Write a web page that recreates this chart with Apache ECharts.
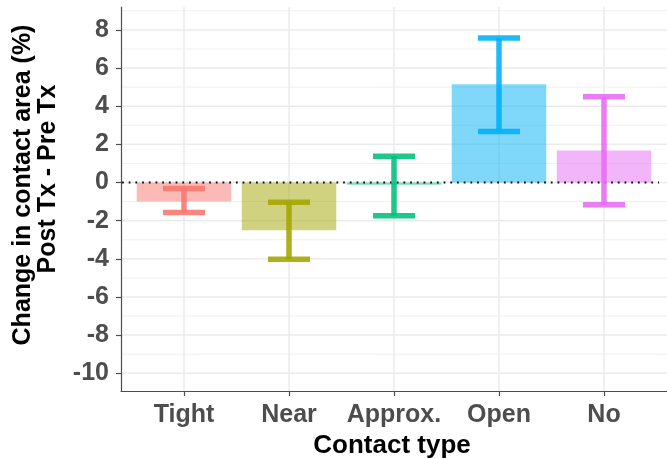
<!DOCTYPE html>
<html>
<head>
<meta charset="utf-8">
<script src="https://cdn.jsdelivr.net/npm/echarts@6/dist/echarts.min.js"></script>
<style>
  html, body { margin: 0; padding: 0; background: #ffffff; }
  #chart { width: 667px; height: 459px; }
</style>
</head>
<body>
<div id="chart"></div>
<script>
// Contact types and the mean change with its interval bounds (%)
const categories = ['Tight', 'Near', 'Approx.', 'Open', 'No'];
const meanChange = [-1.0, -2.5, -0.12, 5.15, 1.68];
const lowerBound = [-1.57, -4.02, -1.74, 2.67, -1.17];
const upperBound = [-0.31, -1.04, 1.38, 7.57, 4.5];
const yTickValues = [-10, -8, -6, -4, -2, 0, 2, 4, 6, 8];
const yMinorValues = [-9, -7, -5, -3, -1, 1, 3, 5, 7, 9];

const palette = ['#F8766D', '#A3A500', '#00BF7D', '#00B0F6', '#E76BF3'];
const FONT = 'Liberation Sans, Arial, sans-serif';
const xPositions = categories.map((c, i) => i + 1);

function withAlpha(hex, a) {
  const n = parseInt(hex.slice(1), 16);
  return 'rgba(' + (n >> 16) + ',' + ((n >> 8) & 255) + ',' + (n & 255) + ',' + a + ')';
}

const chart = echarts.init(document.getElementById('chart'), null, { renderer: 'canvas' });

const option = {
  animation: false,
  backgroundColor: '#ffffff',
  grid: { left: 121, right: -3, top: 7, bottom: 68 },
  xAxis: {
    type: 'value',
    min: 0.4,
    max: 5.6,
    axisLine: { show: true, onZero: false, lineStyle: { color: '#4D4D4D', width: 1.2 } },
    axisTick: { show: true, customValues: xPositions, length: 5, lineStyle: { color: '#4D4D4D', width: 1.2 } },
    axisLabel: {
      customValues: xPositions,
      formatter: v => categories[Math.round(v) - 1],
      fontSize: 25, fontWeight: 'bold', color: '#4D4D4D', fontFamily: FONT, margin: 12
    },
    splitLine: { show: false }
  },
  yAxis: {
    type: 'value',
    min: -10.93,
    max: 9.2,
    axisLine: { show: true, onZero: false, lineStyle: { color: '#4D4D4D', width: 1.2 } },
    axisTick: { show: true, customValues: yTickValues, length: 5, lineStyle: { color: '#4D4D4D', width: 1.2 } },
    axisLabel: {
      customValues: yTickValues,
      fontSize: 25, fontWeight: 'bold', color: '#4D4D4D', fontFamily: FONT, margin: 12
    },
    splitLine: { show: false }
  },
  series: [
    // horizontal grid lines (major on even values, minor on odd)
    {
      type: 'custom', silent: true, z: 0,
      data: yTickValues.map(v => [v, 1]).concat(yMinorValues.map(v => [v, 0])),
      renderItem(params, api) {
        const cs = params.coordSys;
        const y = api.coord([1, api.value(0)])[1];
        return {
          type: 'line',
          shape: { x1: cs.x, y1: y, x2: cs.x + cs.width, y2: y },
          style: { stroke: '#EBEBEB', lineWidth: api.value(1) ? 1.5 : 0.8 }
        };
      }
    },
    // vertical grid lines at each contact type
    {
      type: 'custom', silent: true, z: 0,
      data: xPositions.map(v => [v, 0]),
      renderItem(params, api) {
        const cs = params.coordSys;
        const x = api.coord([api.value(0), 0])[0];
        return {
          type: 'line',
          shape: { x1: x, y1: cs.y, x2: x, y2: cs.y + cs.height },
          style: { stroke: '#EBEBEB', lineWidth: 1.5 }
        };
      }
    },
    // mean change bars
    {
      type: 'custom', silent: true, z: 2,
      data: xPositions.map((x, i) => [x, meanChange[i]]),
      renderItem(params, api) {
        const x = api.value(0), v = api.value(1);
        const a = api.coord([x - 0.45, 0]);
        const b = api.coord([x + 0.45, v]);
        return {
          type: 'rect',
          shape: { x: a[0], y: Math.min(a[1], b[1]), width: b[0] - a[0], height: Math.abs(b[1] - a[1]) },
          style: { fill: withAlpha(palette[params.dataIndex], 0.5) }
        };
      }
    },
    // dotted reference line at zero
    {
      type: 'custom', silent: true, z: 3,
      data: [[0, 0]],
      renderItem(params, api) {
        const cs = params.coordSys;
        const y = api.coord([1, 0])[1];
        return {
          type: 'line',
          shape: { x1: cs.x + 1, y1: y, x2: cs.x + cs.width - 8, y2: y },
          style: { stroke: '#111111', lineWidth: 1.8, lineDash: [1.8, 4.9] }
        };
      }
    },
    // interval error bars
    {
      type: 'custom', silent: true, z: 4,
      data: xPositions.map((x, i) => [x, lowerBound[i], upperBound[i]]),
      renderItem(params, api) {
        const x = api.value(0);
        const lo = api.coord([x, api.value(1)]);
        const hi = api.coord([x, api.value(2)]);
        const capL = api.coord([x - 0.2, 0])[0];
        const capR = api.coord([x + 0.2, 0])[0];
        const style = { stroke: withAlpha(palette[params.dataIndex], 0.88), lineWidth: 5.5 };
        return {
          type: 'group',
          children: [
            { type: 'line', shape: { x1: lo[0], y1: lo[1], x2: hi[0], y2: hi[1] }, style },
            { type: 'line', shape: { x1: capL, y1: lo[1], x2: capR, y2: lo[1] }, style },
            { type: 'line', shape: { x1: capL, y1: hi[1], x2: capR, y2: hi[1] }, style }
          ]
        };
      }
    }
  ],
  graphic: [
    {
      type: 'text', x: 23, y: 185, rotation: Math.PI / 2,
      style: {
        text: 'Change in contact area (%)', fill: '#000000',
        font: 'bold 25px ' + FONT, textAlign: 'center', textVerticalAlign: 'middle'
      }
    },
    {
      type: 'text', x: 48, y: 179, rotation: Math.PI / 2,
      style: {
        text: 'Post Tx - Pre Tx', fill: '#000000',
        font: 'bold 25px ' + FONT, textAlign: 'center', textVerticalAlign: 'middle'
      }
    },
    {
      type: 'text', x: 392, y: 446,
      style: {
        text: 'Contact type', fill: '#000000',
        font: 'bold 26px ' + FONT, textAlign: 'center', textVerticalAlign: 'middle'
      }
    }
  ]
};

chart.setOption(option);
</script>
</body>
</html>
